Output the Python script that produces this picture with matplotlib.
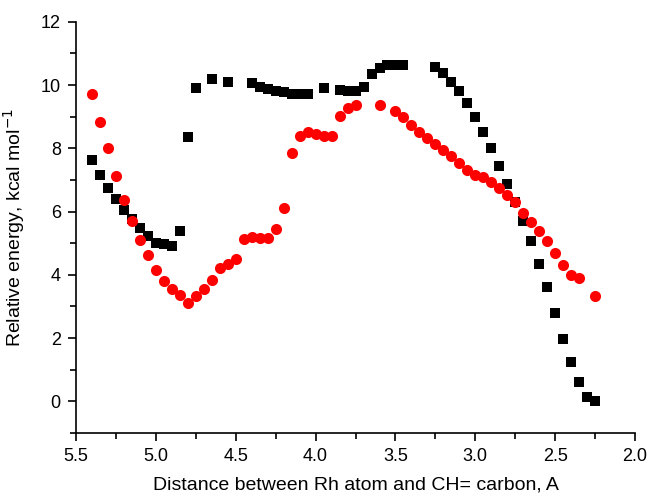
import matplotlib
matplotlib.use("Agg")
import matplotlib.pyplot as plt
from matplotlib.ticker import MultipleLocator, FormatStrFormatter

plt.rcParams['font.family'] = ['Liberation Sans', 'DejaVu Sans']

# black squares
x_black = [5.40, 5.35, 5.30, 5.25, 5.20, 5.15, 5.10, 5.05, 5.00, 4.95, 4.90,
           4.85, 4.80, 4.75, 4.65, 4.55, 4.40, 4.35, 4.30, 4.25, 4.20, 4.15,
           4.10, 4.05, 3.95, 3.85, 3.80, 3.75, 3.70, 3.65, 3.60, 3.55, 3.50,
           3.45, 3.25, 3.20, 3.15, 3.10, 3.05, 3.00, 2.95, 2.90, 2.85, 2.80,
           2.75, 2.70, 2.65, 2.60, 2.55, 2.50, 2.45, 2.40, 2.35, 2.30, 2.25]
y_black = [7.63, 7.15, 6.76, 6.41, 6.06, 5.75, 5.49, 5.24, 5.02, 4.98, 4.92,
           5.40, 8.35, 9.90, 10.19, 10.09, 10.06, 9.94, 9.87, 9.81, 9.78, 9.73,
           9.71, 9.71, 9.90, 9.84, 9.81, 9.81, 9.94, 10.35, 10.54, 10.63, 10.63,
           10.63, 10.57, 10.38, 10.10, 9.81, 9.43, 8.98, 8.51, 8.00, 7.43, 6.86,
           6.29, 5.70, 5.08, 4.35, 3.62, 2.79, 1.97, 1.24, 0.60, 0.13, 0.00]

# red circles
x_red = [5.40, 5.35, 5.30, 5.25, 5.20, 5.15, 5.10, 5.05, 5.00, 4.95, 4.90,
         4.85, 4.80, 4.75, 4.70, 4.65, 4.60, 4.55, 4.50, 4.45, 4.40, 4.35,
         4.30, 4.25, 4.20, 4.15, 4.10, 4.05, 4.00, 3.95, 3.90, 3.85, 3.80,
         3.75, 3.60, 3.50, 3.45, 3.40, 3.35, 3.30, 3.25, 3.20, 3.15, 3.10,
         3.05, 3.00, 2.95, 2.90, 2.85, 2.80, 2.75, 2.70, 2.65, 2.60, 2.55,
         2.50, 2.45, 2.40, 2.35, 2.25]
y_red = [9.71, 8.83, 8.00, 7.14, 6.38, 5.71, 5.11, 4.63, 4.16, 3.81, 3.55,
         3.37, 3.11, 3.34, 3.56, 3.84, 4.22, 4.35, 4.51, 5.14, 5.21, 5.17,
         5.17, 5.46, 6.10, 7.84, 8.38, 8.51, 8.44, 8.38, 8.38, 9.02, 9.27,
         9.37, 9.37, 9.17, 8.98, 8.73, 8.51, 8.32, 8.13, 7.94, 7.75, 7.54,
         7.33, 7.17, 7.08, 6.92, 6.76, 6.51, 6.29, 5.97, 5.68, 5.37, 5.08,
         4.70, 4.32, 4.00, 3.90, 3.33]

fig = plt.figure(figsize=(6.5, 4.97), dpi=100)
ax = fig.add_axes([0.117, 0.129, 0.860, 0.827])

ax.plot(x_black, y_black, 's', color='black', markersize=7, markeredgewidth=0)
ax.plot(x_red, y_red, 'o', color='red', markersize=8, markeredgewidth=0)

ax.set_xlim(5.5, 2.0)
ax.set_ylim(-1, 12)
ax.xaxis.set_major_locator(MultipleLocator(0.5))
ax.xaxis.set_minor_locator(MultipleLocator(0.25))
ax.xaxis.set_major_formatter(FormatStrFormatter('%.1f'))
ax.yaxis.set_major_locator(MultipleLocator(2))
ax.yaxis.set_minor_locator(MultipleLocator(1))

for s in ['top', 'right']:
    ax.spines[s].set_visible(False)
for s in ['left', 'bottom']:
    ax.spines[s].set_linewidth(1.2)

ax.tick_params(which='major', direction='out', length=6, width=1.2, labelsize=13, pad=5)
ax.tick_params(which='minor', direction='out', length=4, width=1.2)

ax.set_xlabel('Distance between Rh atom and CH= carbon, A', fontsize=14, labelpad=8)
ax.set_ylabel('Relative energy, kcal mol$^{-1}$', fontsize=14, labelpad=10)

fig.savefig('out.png', dpi=100)
